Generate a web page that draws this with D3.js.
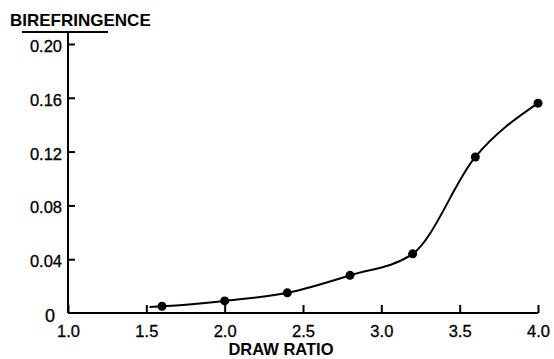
<!DOCTYPE html>
<html>
<head>
<meta charset="utf-8">
<script src="https://cdn.jsdelivr.net/npm/d3@7"></script>
<style>
  html, body { margin: 0; padding: 0; background: #fff; }
  svg { display: block; }
  text { font-family: "Liberation Sans", Arial, sans-serif; fill: #000; }
</style>
</head>
<body>
<svg id="chart" width="554" height="359"></svg>
<script>
// Birefringence measured at each draw ratio
const drawRatio = [1.6, 2.0, 2.4, 2.8, 3.2, 3.6, 4.0];
const birefringence = [0.005, 0.009, 0.015, 0.028, 0.044, 0.116, 0.156];
// the smooth curve starts a little before the first measurement
const curveStart = [1.52, 0.0045];

const xTicks = [1.0, 1.5, 2.0, 2.5, 3.0, 3.5, 4.0];
const yTicks = [0.04, 0.08, 0.12, 0.16, 0.20];
const yTickLabels = ["0.04", "0.08", "0.12", "0.16", "0.20"];

const svg = d3.select("#chart");

const x = d3.scaleLinear().domain([1.0, 4.0]).range([68, 538]);
const y = d3.scaleLinear().domain([0, 0.20]).range([313, 44]);

const ink = "#000";

// x axis: ticks point up into the plot
const xAxis = d3.axisBottom(x)
  .tickValues(xTicks)
  .tickFormat(d3.format(".1f"))
  .tickSizeInner(-8)
  .tickSizeOuter(0)
  .tickPadding(12);

const gx = svg.append("g")
  .attr("transform", `translate(0,${y(0)})`)
  .call(xAxis);
gx.select(".domain").remove();
gx.selectAll(".tick line").attr("stroke", ink).attr("stroke-width", 2);
gx.selectAll(".tick text")
  .attr("font-size", 16.5)
  .attr("font-family", "Liberation Sans, Arial, sans-serif")
  .attr("fill", ink)
  .attr("stroke", ink).attr("stroke-width", 0.3);

// y axis: ticks point right into the plot
const yAxis = d3.axisLeft(y)
  .tickValues(yTicks)
  .tickFormat((d, i) => yTickLabels[i])
  .tickSizeInner(-7)
  .tickSizeOuter(0)
  .tickPadding(6);

const gy = svg.append("g")
  .attr("transform", `translate(${x(1.0)},0)`)
  .call(yAxis);
gy.select(".domain").remove();
gy.selectAll(".tick line").attr("stroke", ink).attr("stroke-width", 2);
gy.selectAll(".tick text")
  .attr("font-size", 16.5)
  .attr("font-family", "Liberation Sans, Arial, sans-serif")
  .attr("fill", ink)
  .attr("stroke", ink).attr("stroke-width", 0.3)
  .attr("dy", "0.45em");

// zero of the y axis, set below-left of the origin
svg.append("text")
  .attr("x", x(1.0) - 13)
  .attr("y", y(0) + 9)
  .attr("text-anchor", "end")
  .attr("font-size", 18)
  .attr("stroke", ink).attr("stroke-width", 0.3)
  .text("0");

// axis lines
const axisTop = y(0.20) - 12;
svg.append("line")
  .attr("x1", x(1.0)).attr("x2", x(4.0))
  .attr("y1", y(0)).attr("y2", y(0))
  .attr("stroke", ink).attr("stroke-width", 2);
svg.append("line")
  .attr("x1", x(1.0)).attr("x2", x(1.0))
  .attr("y1", y(0)).attr("y2", axisTop)
  .attr("stroke", ink).attr("stroke-width", 2);
// rule under the y-axis title
svg.append("line")
  .attr("x1", 22).attr("x2", 108)
  .attr("y1", axisTop).attr("y2", axisTop)
  .attr("stroke", ink).attr("stroke-width", 2);

// axis titles
svg.append("text")
  .attr("x", 10).attr("y", 26)
  .attr("font-size", 17).attr("font-weight", "bold")
  .text("BIREFRINGENCE");
svg.append("text")
  .attr("x", 281).attr("y", 355)
  .attr("text-anchor", "middle")
  .attr("font-size", 16.5).attr("font-weight", "bold")
  .text("DRAW RATIO");

// smooth curve through the measurements
const pts = drawRatio.map((d, i) => [d, birefringence[i]]);
const linePts = [curveStart, ...pts];
const line = d3.line()
  .x(d => x(d[0]))
  .y(d => y(d[1]))
  .curve(d3.curveMonotoneX);

svg.append("path")
  .datum(linePts)
  .attr("d", line)
  .attr("fill", "none")
  .attr("stroke", ink)
  .attr("stroke-width", 2);

// measured points
svg.append("g")
  .selectAll("circle")
  .data(pts)
  .join("circle")
  .attr("cx", d => x(d[0]))
  .attr("cy", d => y(d[1]))
  .attr("r", 4.5)
  .attr("fill", ink);
</script>
</body>
</html>
